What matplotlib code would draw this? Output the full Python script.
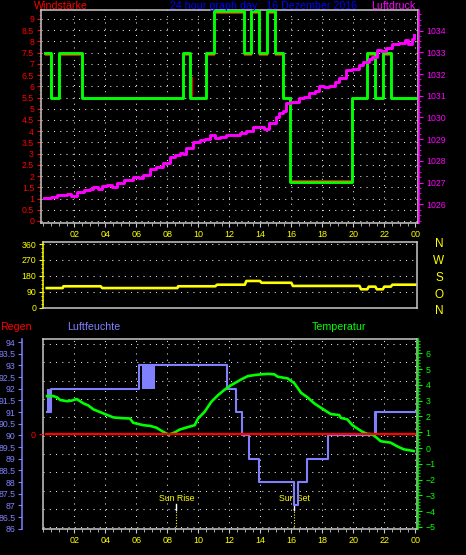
import numpy as np
import matplotlib
matplotlib.use('Agg')
import matplotlib.pyplot as plt
from matplotlib.ticker import MultipleLocator, AutoMinorLocator, FuncFormatter

plt.rcParams['font.family'] = ['Liberation Sans', 'DejaVu Sans']

# ---- data (hours of the day) ----
# wind gust (green) and average wind (red), Beaufort
gust_t = [0.11, 0.48, 1.01, 2.48, 9.01, 9.47, 10.52, 10.99, 12.97, 13.38, 13.92, 14.45,
          14.95, 15.44, 15.94, 19.92, 20.86, 21.42, 21.9, 22.41, 24.0]
gust_v = [7.5, 5.5, 7.5, 5.5, 7.5, 5.5, 7.5, 9.35, 7.5, 9.35, 7.5, 9.35,
          7.5, 5.5, 1.75, 5.5, 7.5, 5.5, 7.5, 5.5, 5.5]
avg_t = [0.11, 0.48, 1.01, 2.48, 9.01, 9.47, 9.57, 10.52, 10.99, 12.97, 13.38, 13.92,
         14.45, 14.95, 15.44, 15.49, 15.94, 19.92, 20.86, 21.42, 21.9, 22.41, 24.0]
avg_v = [7.4, 5.5, 7.4, 5.5, 7.4, 6.4, 5.5, 7.4, 9.25, 7.4, 9.25, 7.4,
         9.25, 7.4, 6.4, 5.5, 1.82, 5.5, 7.4, 5.5, 7.4, 5.5, 5.5]

# air pressure hPa
press_t = [0.06, 0.5, 0.9, 1.3, 1.52, 1.8, 2.16, 2.6, 3.0, 3.23, 3.5, 3.8, 4.09, 4.4, 4.73,
           5.2, 5.8, 6.2, 6.45, 6.87, 7.3, 7.73, 8.16, 8.5, 8.8, 9.0, 9.23, 9.66, 10.09,
           10.4, 10.73, 11.05, 11.4, 11.8, 12.2, 12.66, 13.1, 13.51, 13.9, 14.26, 14.58,
           15.01, 15.22, 15.44, 15.65, 16.0, 16.5, 16.8, 17.15, 17.5, 17.8, 18.1, 18.44,
           18.8, 19.08, 19.5, 19.9, 20.36, 20.6, 20.79, 21.0, 21.22, 21.54, 21.8, 22.08,
           22.5, 22.93, 23.36, 23.53, 23.79, 23.9]
press_v = [1026.28, 1026.35, 1026.42, 1026.45, 1026.46, 1026.4, 1026.55, 1026.65, 1026.72,
           1026.78, 1026.7, 1026.85, 1026.89, 1026.8, 1026.97, 1027.1, 1027.27, 1027.2,
           1027.35, 1027.61, 1027.7, 1027.89, 1028.19, 1028.25, 1028.35, 1028.3, 1028.58,
           1028.88, 1028.96, 1029.0, 1029.19, 1029.04, 1029.12, 1029.19, 1029.2, 1029.27,
           1029.4, 1029.58, 1029.55, 1029.47, 1029.73, 1030.04, 1030.19, 1030.3, 1030.65,
           1030.7, 1030.88, 1030.95, 1031.12, 1031.2, 1031.45, 1031.4, 1031.45, 1031.65,
           1031.83, 1032.19, 1032.25, 1032.42, 1032.55, 1032.57, 1032.7, 1032.8, 1033.11,
           1033.05, 1033.19, 1033.37, 1033.42, 1033.57, 1033.37, 1033.6, 1033.8]

# wind direction, degrees
dir_t = [0.22, 1.25, 1.3, 3.7, 3.8, 8.65, 8.7, 11.1, 11.2, 13.0, 13.1, 13.98, 14.08, 16.0,
         16.1, 20.4, 20.5, 20.9, 21.0, 21.42, 21.52, 21.9, 22.0, 22.42, 22.52, 24.0]
dir_v = [111, 111, 121, 121, 111, 111, 121, 121, 130, 130, 151, 151, 141, 141,
         123, 123, 104, 104, 119, 119, 104, 104, 119, 119, 130, 130]

# humidity %, step series plus short spans where it flickered
hum_t = [0.26, 0.48, 6.17, 11.83, 12.41, 12.84, 13.27, 13.92, 16.17, 16.41, 16.99, 18.39, 21.4, 24.0]
hum_v = [91, 92, 93, 92, 91, 90, 89, 88, 87, 88, 89, 90, 91, 91]
hum_flicker = [(0.26, 0.48, 91, 92), (6.35, 7.21, 92, 93), (21.33, 21.55, 90, 91)]

# temperature °C
temp_t = [0.24, 0.66, 0.9, 1.09, 1.52, 1.8, 2.16, 2.59, 2.9, 3.23, 3.88, 4.52, 5.0, 5.59, 5.8,
          6.45, 6.9, 7.3, 7.73, 8.1, 8.48, 8.8, 9.23, 9.77, 9.98, 10.41, 10.84, 11.27, 11.7,
          12.13, 12.77, 13.2, 13.6, 14.05, 14.5, 14.91, 15.12, 15.77, 16.2, 16.63, 17.05,
          17.48, 17.91, 18.55, 19.09, 19.2, 19.62, 19.94, 20.26, 20.58, 20.9, 21.2, 21.45,
          21.77, 22.41, 22.83, 23.25, 23.9]
temp_v = [3.29, 3.29, 3.2, 3.04, 2.97, 3.0, 3.1, 2.83, 2.7, 2.45, 2.19, 1.94, 1.9, 1.87, 1.6,
          1.45, 1.4, 1.29, 1.03, 0.85, 0.99, 1.17, 1.3, 1.45, 1.87, 2.3, 2.93, 3.35, 3.7,
          3.99, 4.35, 4.56, 4.62, 4.67, 4.7, 4.67, 4.52, 4.41, 4.1, 3.5, 3.21,
          2.83, 2.55, 2.15, 2.09, 1.91, 1.81, 1.45, 1.24, 1.03, 0.9, 0.88, 0.7,
          0.43, 0.34, 0.11, -0.08, -0.19]

# rain mm
rain_t = [0.17, 24.0]
rain_v = [0, 0]

sun_rise, sun_set = 8.58, 16.19
hour_ticks = list(range(2, 25, 2))
hour_labels = ['%02d' % (h % 24) for h in hour_ticks]

# ---- drawing ----
W, H = 466, 555
fig = plt.figure(figsize=(W / 100, H / 100), dpi=100, facecolor='black')

def box(l, t, r, b):
    return [l / W, 1 - b / H, (r - l) / W, (b - t) / H]

FRAME = '#c8c8c8'
DOT = (0, (1, 5))
RED, MAG, YEL, BLUE, GRN = '#ff0000', '#ff00ff', '#ffff00', '#8080ff', '#00ff00'
fmt = FuncFormatter(lambda v, p: '%g' % v)

def base(ax):
    ax.set_facecolor('black')
    for s in ax.spines.values():
        s.set_color(FRAME)
        s.set_linewidth(1.1)
    ax.tick_params(axis='x', which='both', colors=FRAME, direction='out')
    ax.tick_params(axis='x', which='major', length=3, labelsize=6.5, labelcolor=YEL, pad=2)
    ax.tick_params(axis='x', which='minor', length=2.5)
    ax.set_xticks(hour_ticks)
    ax.set_xticklabels(hour_labels)
    ax.xaxis.set_minor_locator(MultipleLocator(0.5))

def twin_only(tw, side, color):
    for k, s in tw.spines.items():
        s.set_visible(k == side)
    tw.spines[side].set_color(color)
    tw.spines[side].set_linewidth(1.1)

# top panel: wind speed + pressure
ax1 = fig.add_axes(box(41, 10, 417.5, 223))
base(ax1)
ax1.set_xlim(-0.148, 24.14)
ax1.set_ylim(-0.09, 9.4)
ax1.yaxis.set_major_locator(MultipleLocator(0.5))
ax1.yaxis.set_minor_locator(AutoMinorLocator(3))
ax1.yaxis.set_major_formatter(fmt)
ax1.tick_params(axis='y', which='both', colors=RED, labelsize=6.3, pad=2)
ax1.tick_params(axis='y', which='major', length=3)
ax1.tick_params(axis='y', which='minor', length=1.5)
ax1.grid(True, which='major', color='#e6e6e6', linestyle=DOT, linewidth=0.75)
ax1.step(avg_t, avg_v, where='post', color=RED, lw=0.8, zorder=3)
ax1.step(gust_t, gust_v, where='post', color=GRN, lw=2.1, zorder=4)

ax1p = ax1.twinx()
twin_only(ax1p, 'right', MAG)
ax1p.spines['right'].set_position(('outward', 1))
ax1p.set_ylim(1025.14, 1034.95)
ax1p.set_yticks(range(1026, 1035))
ax1p.yaxis.set_minor_locator(AutoMinorLocator(4))
ax1p.tick_params(axis='y', which='both', colors=MAG, labelsize=6.3, pad=2)
ax1p.tick_params(axis='y', which='major', length=3)
ax1p.tick_params(axis='y', which='minor', length=1.5)
ax1p.step(press_t, press_v, where='post', color=MAG, lw=2.1)

# middle panel: wind direction
ax2 = fig.add_axes(box(43, 241.7, 416.7, 308.3))
base(ax2)
ax2.set_xlim(-0.02, 24.09)
ax2.set_ylim(-3.4, 373)
ax2.set_yticks([0, 90, 180, 270, 360])
ax2.yaxis.set_minor_locator(MultipleLocator(22.5))
ax2.spines['left'].set_color(YEL)
ax2.tick_params(axis='y', which='both', colors=YEL, labelsize=6.3, pad=2)
ax2.tick_params(axis='y', which='major', length=3)
ax2.tick_params(axis='y', which='minor', length=1.5)
ax2.tick_params(axis='x', which='both', length=0, labelbottom=False)
ax2.grid(True, axis='y', color='#e6e6e6', linestyle=DOT, linewidth=0.75)
ax2.plot(dir_t, dir_v, color=YEL, lw=1.9)
for letter, py in zip('NWSON', [244.5, 261, 278, 294.5, 311]):
    fig.text(439 / W, 1 - py / H, letter, color=YEL, fontsize=8.5, ha='center', va='center')

# lower panel: humidity, temperature, rain
ax3 = fig.add_axes(box(43, 339, 417, 529.3))
base(ax3)
ax3.set_xlim(-0.02, 24.11)
ax3.set_ylim(0, 1)
ax3.set_yticks(np.linspace(0.0105, 0.974, 11))
ax3.tick_params(axis='y', length=0, labelleft=False)
ax3.grid(True, color='#e6e6e6', linestyle=DOT, linewidth=0.75)

for t, lab in [(sun_rise, 'Sun Rise'), (sun_set, 'Sun Set')]:
    ax3.plot([t, t], [0.101, 0.133], color='white', lw=1)
    ax3.plot([t, t], [0.0, 0.101], color=YEL, lw=0.8, linestyle=(0, (1, 1.5)))
    ax3.text(t, 0.164, lab, color=YEL, fontsize=6.3, ha='center', va='center')

hum = ax3.twinx()
hum.yaxis.tick_left()
twin_only(hum, 'left', BLUE)
hum.spines['left'].set_position(('outward', 15.3))
hum.set_ylim(85.98, 94.13)
hum.yaxis.set_major_locator(MultipleLocator(0.5))
hum.yaxis.set_major_formatter(fmt)
hum.tick_params(axis='y', which='both', colors=BLUE, labelsize=6.3, pad=1.5, length=3)
hum.step(hum_t, hum_v, where='post', color=BLUE, lw=1.5)
for a, b, lo, hi in hum_flicker:
    hum.fill_between([a, b], lo, hi, color=BLUE, lw=0)

temp = ax3.twinx()
twin_only(temp, 'right', GRN)
temp.spines['right'].set_position(('outward', 1))
temp.set_ylim(-5.15, 6.91)
temp.set_yticks(range(-5, 7))
temp.yaxis.set_minor_locator(AutoMinorLocator(5))
temp.tick_params(axis='y', which='both', colors=GRN, labelsize=6.3, pad=2)
temp.tick_params(axis='y', which='major', length=3)
temp.tick_params(axis='y', which='minor', length=1.5)
temp.plot(temp_t, temp_v, color=GRN, lw=1.9)

rain = ax3.twinx()
rain.yaxis.tick_left()
for s in rain.spines.values():
    s.set_visible(False)
rain.set_ylim(-1, 1.003)
rain.set_yticks([0])
rain.tick_params(axis='y', colors=RED, labelsize=6.5, length=3, pad=2)
rain.plot(rain_t, rain_v, color=RED, lw=1.6)

# headings
fig.text(61 / W, 1 - 6 / H, 'Windstärke', color=RED, fontsize=7.7, ha='center', va='center')
fig.text(264 / W, 1 - 6 / H, '24 hour graph day : 16 Dezember 2016', color='#0000ff',
         fontsize=7.7, ha='center', va='center')
fig.text(393.5 / W, 1 - 6 / H, 'Luftdruck', color=MAG, fontsize=7.7, ha='center', va='center')
fig.text(16 / W, 1 - 327 / H, 'Regen', color=RED, fontsize=7.7, ha='center', va='center')
fig.text(93.5 / W, 1 - 327 / H, 'Luftfeuchte', color=BLUE, fontsize=7.7, ha='center', va='center')
fig.text(339.5 / W, 1 - 327 / H, 'Temperatur', color=GRN, fontsize=7.7, ha='center', va='center')

fig.savefig('out.png', dpi=100, facecolor='black')
